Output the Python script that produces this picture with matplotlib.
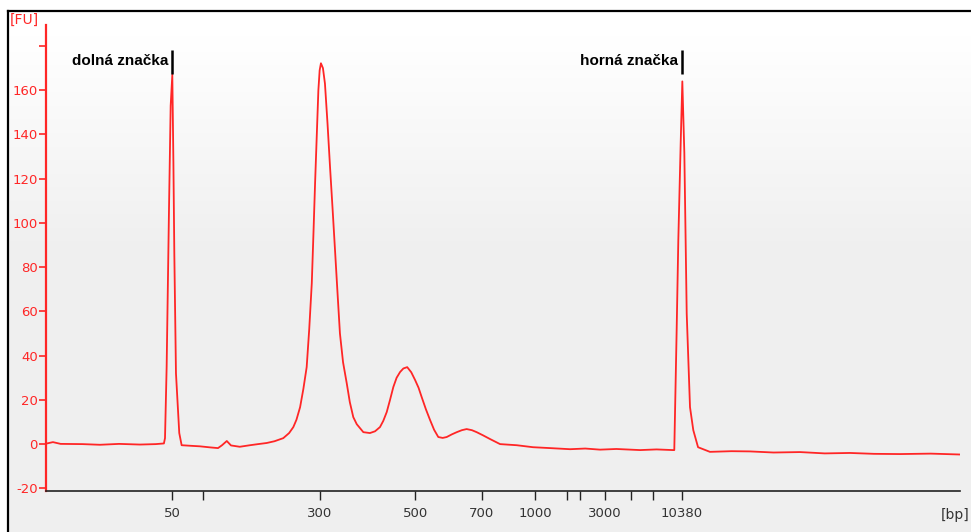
import numpy as np
import matplotlib
matplotlib.use("Agg")
import matplotlib.pyplot as plt

# electropherogram trace: migration time [s] vs fluorescence [FU]
time_s = [20.00, 20.38, 20.80, 22.00, 22.95, 24.00, 25.14, 26.00, 26.45,
          26.51, 26.60, 26.73, 26.82, 26.91, 26.97, 27.02, 27.11, 27.29, 27.42,
          28.00, 28.42, 29.00, 29.41, 29.63, 29.89, 30.12, 30.60, 31.16, 31.60,
          32.07, 32.50, 32.98, 33.30, 33.53, 33.70, 33.90, 34.08, 34.26, 34.40,
          34.54, 34.63, 34.72, 34.90, 34.97, 35.04, 35.15, 35.26, 35.40, 35.54,
          35.68, 35.81, 35.95, 36.08, 36.25, 36.45, 36.62, 36.81, 37.00, 37.18,
          37.36, 37.72, 38.00, 38.27, 38.45, 38.64, 38.82, 39.00, 39.18, 39.37,
          39.55, 39.76, 39.98, 40.19, 40.38, 40.55, 40.78, 41.01, 41.23, 41.46,
          41.70, 41.92, 42.20, 42.47, 42.75, 43.01, 43.30, 43.56, 43.90, 44.29,
          44.84, 45.75, 46.64, 47.57, 48.67, 49.50, 50.31, 51.20, 52.50, 53.40,
          54.30, 54.37, 54.50, 54.59, 54.72, 54.81, 54.92, 55.05, 55.23, 55.41,
          55.67, 56.32, 57.50, 58.51, 59.80, 61.25, 62.60, 63.98, 65.30, 66.72,
          68.40, 70.00]
fu = [0.2, 0.9, 0.1, 0.0, -0.3, 0.1, -0.2, 0.0, 0.3,
      2.7, 35.0, 107.0, 153.0, 167.0, 127.0, 86.0, 32.0, 5.0, -0.5,
      -0.8, -1.0, -1.5, -1.8, -0.5, 1.4, -0.6, -1.2, -0.5, 0.0,
      0.5, 1.3, 2.7, 5.0, 7.7, 11.0, 16.7, 25.0, 34.8, 52.0,
      72.8, 95.0, 118.0, 160.0, 169.0, 172.2, 170.0, 163.0, 145.0, 125.0,
      106.0, 87.8, 68.0, 50.0, 37.0, 27.6, 19.0, 12.2, 9.0, 7.2,
      5.4, 5.0, 5.8, 7.7, 10.5, 14.5, 20.0, 25.8, 30.0, 32.6,
      34.2, 34.8, 32.5, 29.0, 25.5, 21.3, 15.8, 10.9, 6.5, 3.2,
      2.8, 3.2, 4.4, 5.4, 6.3, 6.8, 6.3, 5.4, 4.0, 2.3,
      0.0, -0.5, -1.4, -1.8, -2.3, -2.0, -2.5, -2.2, -2.7, -2.4,
      -2.7, -2.7, 51.6, 92.0, 136.0, 164.0, 131.7, 59.0, 16.7, 6.3,
      -1.4, -3.5, -3.2, -3.3, -3.8, -3.6, -4.2, -4.0, -4.4, -4.5,
      -4.3, -4.7]

# ladder ticks (migration time -> bp label)
tick_time = [26.89, 28.59, 34.99, 40.19, 43.85, 46.75, 48.50, 49.21, 50.58,
             52.00, 53.21, 54.79]
tick_bp = ["50", "", "300", "500", "700", "1000", "", "", "3000", "", "", "10380"]

y_ticks = [-20, 0, 20, 40, 60, 80, 100, 120, 140, 160, 180]

markers_time = [26.91, 54.81]
markers_label = ["dolná značka", "horná značka"]

W, H = 971, 532
fig = plt.figure(figsize=(W / 100, H / 100), dpi=100)
fig.patch.set_facecolor("white")

# framed light-gray panel, whiter toward the top
bg = fig.add_axes([8 / W, 0, 1 - 8 / W, (H - 11) / H])
grad = np.linspace(1.0, 0.0, 256).reshape(-1, 1)
grad = np.clip((grad - 0.55) * 2.5, 0, 1)
bg.imshow(np.dstack([0.94 + 0.06 * grad] * 3), aspect="auto",
          extent=[0, 1, 0, 1], origin="upper")
bg.set_xlim(0, 1)
bg.set_ylim(0, 1)
bg.set_xticks([])
bg.set_yticks([])
for s in ["right", "bottom"]:
    bg.spines[s].set_visible(False)
for s in ["left", "top"]:
    bg.spines[s].set_linewidth(1.6)
    bg.spines[s].set_color("black")

ax = fig.add_axes([46 / W, 41 / H, 914 / W, 466 / H])
ax.set_facecolor("none")
ax.plot(time_s, fu, color="#ff2626", lw=1.3)

ax.set_xlim(20, 70)
ax.set_ylim(-21.2, 189.5)
ax.spines["top"].set_visible(False)
ax.spines["right"].set_visible(False)
ax.spines["left"].set_color("#ff2626")
ax.spines["left"].set_linewidth(1.6)
ax.spines["bottom"].set_color("#222222")
ax.spines["bottom"].set_linewidth(1.2)

ax.set_yticks(y_ticks)
ax.set_yticklabels([str(v) if v != 180 else "" for v in y_ticks])
ax.tick_params(axis="y", colors="#ff2626", labelcolor="#ff2626", length=5,
               width=1.2, pad=1, labelsize=9.5)
ax.set_xticks(tick_time)
ax.set_xticklabels(tick_bp)
ax.tick_params(axis="x", colors="#222222", labelcolor="#333333", length=6.5,
               width=1.0, pad=5, labelsize=9.5)

for t, lab in zip(markers_time, markers_label):
    ax.vlines(t, 167.5, 178, color="black", lw=1.8)
    ax.annotate(lab, (t, 173), xytext=(-3, 0), textcoords="offset points",
                ha="right", va="center", fontsize=11, fontweight="bold",
                family="Liberation Sans", color="black")

fig.text(10 / W, 1 - 20 / H, "[FU]", color="#ff2626", fontsize=10,
         ha="left", va="center")
fig.text(969 / W, 1 - 515 / H, "[bp]", color="#333333", fontsize=10,
         ha="right", va="center")

fig.savefig("out.png", dpi=100)
